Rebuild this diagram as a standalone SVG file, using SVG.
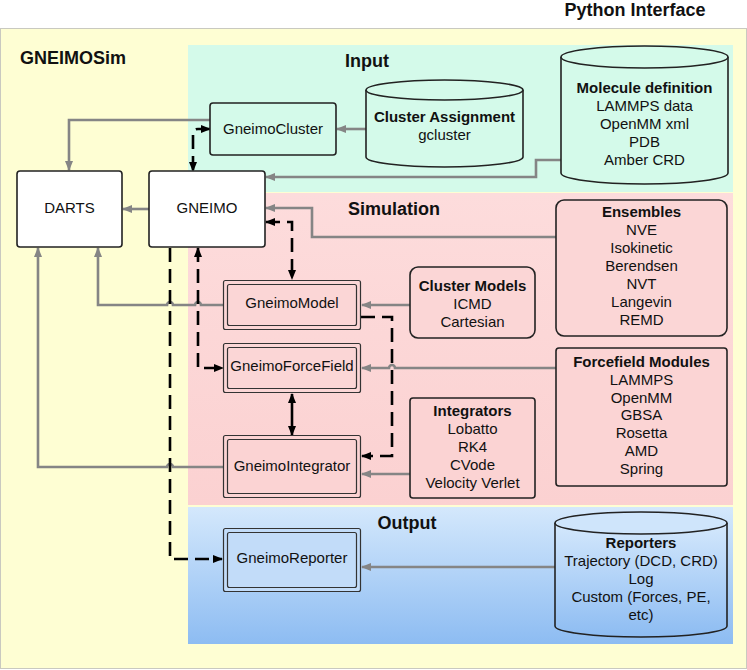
<svg xmlns="http://www.w3.org/2000/svg" width="747" height="670" viewBox="0 0 747 670">
<style>
text{font-family:"Liberation Sans",Arial,sans-serif;font-size:15px;fill:#111;text-anchor:middle}
.b{font-weight:bold}
.h{font-weight:bold;font-size:18px}
.node{stroke:#222;stroke-width:1.6}
.dbl{fill:none;stroke:#333;stroke-width:1.2}
.g{fill:none;stroke:#858585;stroke-width:2.6}
.k{fill:none;stroke:#000;stroke-width:2.6;stroke-dasharray:14 7}
</style>
<defs>
<linearGradient id="out" x1="0" y1="0" x2="0" y2="1"><stop offset="0" stop-color="#d4e8fc"/><stop offset="1" stop-color="#8dbcf2"/></linearGradient>
<linearGradient id="sim" x1="0" y1="0" x2="0" y2="1"><stop offset="0" stop-color="#fddcdc"/><stop offset="1" stop-color="#fbd1d1"/></linearGradient>
<marker id="ag" viewBox="0 0 10 10" refX="9" refY="5" markerWidth="10" markerHeight="10" markerUnits="userSpaceOnUse" orient="auto-start-reverse"><path d="M0,1 L10,5 L0,9 z" fill="#858585"/></marker>
<marker id="ak" viewBox="0 0 10 10" refX="9" refY="5" markerWidth="10" markerHeight="10" markerUnits="userSpaceOnUse" orient="auto-start-reverse"><path d="M0,1 L10,5 L0,9 z" fill="#000"/></marker>
</defs>

<text class="h" x="635" y="16">Python Interface</text>
<rect x="0.5" y="28.5" width="746" height="640" fill="#fefed3" stroke="#c9c9c0"/>
<text class="h" x="20" y="64" style="text-anchor:start">GNEIMOSim</text>

<g id="panel-input"><rect x="188" y="45" width="545" height="147" fill="#d4faea"/><text class="h" x="367" y="67">Input</text></g>
<g id="panel-simulation"><rect x="188" y="193" width="545" height="312" fill="url(#sim)"/><text class="h" x="394" y="215">Simulation</text></g>
<g id="panel-output"><rect x="188" y="507" width="545" height="137" fill="url(#out)"/><text class="h" x="407" y="529">Output</text></g>

<g id="connectors">
<path class="g" d="M366,129 H337" marker-end="url(#ag)"/>
<path class="g" d="M210,120 H69 V170" marker-end="url(#ag)"/>
<path class="g" d="M561,160 H536 V177 H266" marker-end="url(#ag)"/>
<path class="g" d="M149,209 H123" marker-end="url(#ag)"/>
<path class="g" d="M556,237 H312 V208 H266" marker-end="url(#ag)"/>
<path class="g" d="M410,305 H362" marker-end="url(#ag)"/>
<path class="g" d="M224,305 H201 A3,3 0 0 0 195,305 H173 A3,3 0 0 0 167,305 H98 V248" marker-end="url(#ag)"/>
<path class="g" d="M556,368 H395 A3,3 0 0 0 389,368 H362" marker-end="url(#ag)"/>
<path class="g" d="M410,474 H362" marker-end="url(#ag)"/>
<path class="g" d="M224,467 H173 A3,3 0 0 0 167,467 H38 V248" marker-end="url(#ag)"/>
<path class="g" d="M555,567 H362" marker-end="url(#ag)"/>

<path class="k" d="M210,129 H198 Q193,129 193,134 V171" marker-start="url(#ak)" marker-end="url(#ak)"/>
<path class="k" d="M266,222 H292 V279" marker-start="url(#ak)" marker-end="url(#ak)"/>
<path class="k" d="M198,248 V368 H223" marker-start="url(#ak)" marker-end="url(#ak)"/>
<path class="k" d="M292,394 V435" style="stroke-dasharray:none" marker-start="url(#ak)" marker-end="url(#ak)"/>
<path class="k" d="M361,317 H392 V456 H362" marker-end="url(#ak)"/>
<path class="k" d="M170,248 V559 H222" marker-end="url(#ak)"/>
</g>

<g id="darts"><rect class="node" x="17" y="171" width="105" height="76" rx="3" fill="#fff"/><text x="69.5" y="213">DARTS</text></g>
<g id="gneimo"><rect class="node" x="149" y="171" width="116" height="76" rx="3" fill="#fff"/><text x="207" y="213">GNEIMO</text></g>
<g id="gneimocluster"><rect class="node" x="210" y="103" width="126" height="52" rx="3" fill="#d4faea"/><text x="273" y="134">GneimoCluster</text></g>

<g id="cluster-assignment">
<path class="node" d="M366,90 V157 A78.5,10 0 0 0 523,157 V90" fill="#d4faea"/>
<ellipse class="node" cx="444.5" cy="90" rx="78.5" ry="10" fill="#d4faea"/>
<text class="b" x="444.5" y="122">Cluster Assignment</text>
<text x="444.5" y="140">gcluster</text>
</g>

<g id="molecule-definition">
<path class="node" d="M561,57 V173 A83.5,11 0 0 0 728,173 V57" fill="#d4faea"/>
<ellipse class="node" cx="644.5" cy="57" rx="83.5" ry="11" fill="#d4faea"/>
<text class="b" x="644.5" y="93">Molecule definition</text>
<text x="644.5" y="111">LAMMPS data</text>
<text x="644.5" y="129">OpenMM xml</text>
<text x="644.5" y="147">PDB</text>
<text x="644.5" y="165">Amber CRD</text>
</g>

<g id="ensembles"><rect class="node" x="556" y="200" width="171" height="136" rx="8" fill="#fbd6d6"/>
<text class="b" x="641.5" y="217">Ensembles</text><text x="641.5" y="235">NVE</text><text x="641.5" y="253">Isokinetic</text><text x="641.5" y="271">Berendsen</text><text x="641.5" y="289">NVT</text><text x="641.5" y="307">Langevin</text><text x="641.5" y="325">REMD</text></g>

<g id="cluster-models"><rect class="node" x="410" y="267" width="125" height="71" rx="8" fill="#fbd6d6"/>
<text class="b" x="472.5" y="291">Cluster Models</text><text x="472.5" y="309">ICMD</text><text x="472.5" y="327">Cartesian</text></g>

<g id="forcefield-modules"><rect class="node" x="556" y="348" width="171" height="138" rx="3" fill="#fbd4d4"/>
<text class="b" x="641.5" y="367">Forcefield Modules</text><text x="641.5" y="385">LAMMPS</text><text x="641.5" y="403">OpenMM</text><text x="641.5" y="420">GBSA</text><text x="641.5" y="438">Rosetta</text><text x="641.5" y="456">AMD</text><text x="641.5" y="474">Spring</text></g>

<g id="integrators"><rect class="node" x="410" y="398" width="125" height="100" rx="3" fill="#fbd3d3"/>
<text class="b" x="472.5" y="416">Integrators</text><text x="472.5" y="434">Lobatto</text><text x="472.5" y="452">RK4</text><text x="472.5" y="470">CVode</text><text x="472.5" y="488">Velocity Verlet</text></g>

<g id="gneimomodel"><rect class="dbl" x="223.5" y="280.5" width="137" height="49" rx="2" style="fill:#fbd6d6"/><rect class="dbl" x="227.5" y="284.5" width="129" height="41" rx="2"/><text x="292" y="308">GneimoModel</text></g>
<g id="gneimoforcefield"><rect class="dbl" x="223.5" y="343.5" width="137" height="49" rx="2" style="fill:#fbd6d6"/><rect class="dbl" x="227.5" y="347.5" width="129" height="41" rx="2"/><text x="292" y="371">GneimoForceField</text></g>
<g id="gneimointegrator"><rect class="dbl" x="223.5" y="435.5" width="137" height="62" rx="2" style="fill:#fbd3d3"/><rect class="dbl" x="227.5" y="439.5" width="129" height="54" rx="2"/><text x="292" y="471">GneimoIntegrator</text></g>
<g id="gneimoreporter"><rect class="dbl" x="223.5" y="528.5" width="137" height="63" rx="2" style="fill:#c2dcf9"/><rect class="dbl" x="227.5" y="532.5" width="129" height="55" rx="2"/><text x="292" y="563">GneimoReporter</text></g>

<g id="reporters">
<path class="node" d="M555,523 V626 A86,11 0 0 0 727,626 V523" fill="url(#out)"/>
<ellipse class="node" cx="641" cy="523" rx="86" ry="11" fill="#cfe5fb"/>
<text class="b" x="641" y="548">Reporters</text>
<text x="641" y="566">Trajectory (DCD, CRD)</text>
<text x="641" y="584">Log</text>
<text x="641" y="602">Custom (Forces, PE,</text>
<text x="641" y="620">etc)</text>
</g>
</svg>
